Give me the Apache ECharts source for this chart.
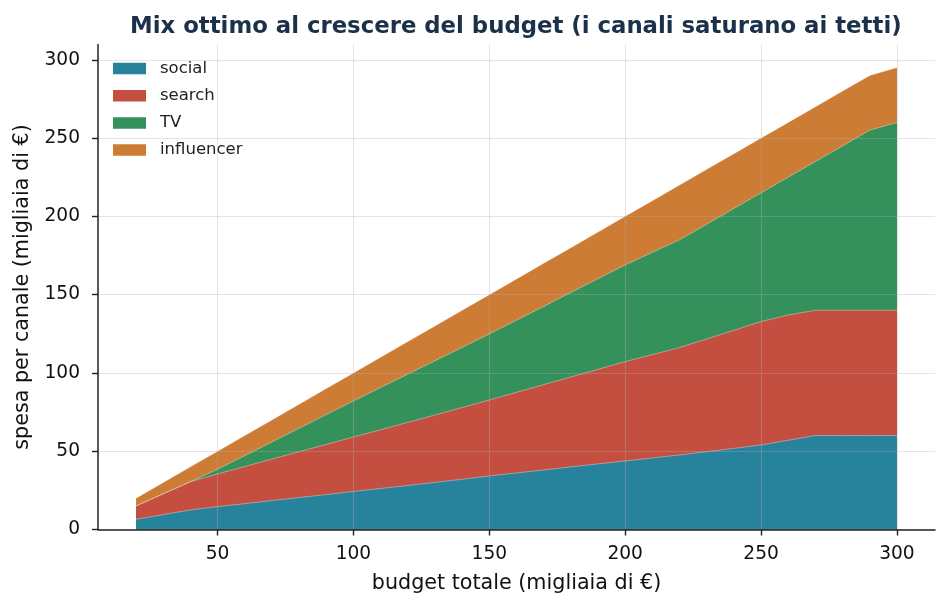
<!DOCTYPE html>
<html>
<head>
<meta charset="utf-8">
<script src="https://cdn.jsdelivr.net/npm/echarts@6/dist/echarts.min.js"></script>
<style>html,body{margin:0;padding:0;background:#fff;}#c{width:949px;height:608px;}</style>
</head>
<body>
<div id="c"></div>
<script>
const budget = [20,30,40,50,60,70,80,90,100,110,120,130,140,150,160,170,180,190,200,210,220,230,240,250,260,270,280,290,300];
const social = [6.5,9.5,12.5,14.6,16.5,18.5,20.4,22.3,24.3,26.2,28.1,30.1,32.1,34.2,36.1,38.0,40.0,41.9,43.8,45.7,47.6,49.7,51.8,54.0,57.0,60,60,60,60];
const search = [8.5,13.3,18.0,20.9,23.7,26.5,29.3,32.0,34.8,37.5,40.3,43.0,45.8,48.5,51.5,54.5,57.4,60.4,63.4,66.0,68.6,72.0,75.4,78.8,80,80,80,80,80];
const tv = [0,0,0,3.0,6.9,10.9,14.9,19.1,23.0,27.0,30.8,34.7,38.4,42.2,46.1,50.0,54.0,57.9,61.8,65.3,68.8,73.3,77.8,82.2,88.0,95,105,115,120];
const influencer = [5,7.2,9.5,11.5,12.9,14.1,15.4,16.6,17.9,19.3,20.8,22.2,23.7,25.1,26.3,27.5,28.6,29.8,31.0,33.0,35,35,35,35,35,35,35,35,35];
const seriesNames = ['social','search','TV','influencer'];
const xTicks = [50,100,150,200,250,300];
const yTicks = [0,50,100,150,200,250,300];

const colors = ['#27829b','#c44e40','#35915b','#cd7c35'];
const values = [social, search, tv, influencer];
const font = 'DejaVu Sans';

// cumulative tops (stacking done here, areas filled to zero and overlaid)
const cum = [];
values.forEach((arr,i)=>{
  cum.push(arr.map((v,j)=> v + (i>0 ? cum[i-1][j] : 0)));
});

const chart = echarts.init(document.getElementById('c'));
const series = [];
for (let i = seriesNames.length - 1; i >= 0; i--) {
  series.push({
    name: seriesNames[i],
    type: 'line',
    data: budget.map((b,j)=>[b, cum[i][j]]),
    showSymbol: false,
    symbol: 'none',
    color: colors[i],
    lineStyle: {width: 0.8, color: 'rgba(255,255,255,0.45)'},
    areaStyle: {color: colors[i], opacity: 1, origin: 'start'},
    emphasis: {disabled: true},
    animation: false,
    z: 2
  });
}

chart.setOption({
  animation: false,
  backgroundColor: '#ffffff',
  textStyle: {fontFamily: font},
  title: {
    text: 'Mix ottimo al crescere del budget (i canali saturano ai tetti)',
    left: 130,
    top: 16,
    padding: 0,
    textStyle: {fontFamily: font, fontSize: 22.8, fontWeight: 'bold', color: '#1b314a'}
  },
  legend: {
    orient: 'vertical',
    left: 113,
    top: 60,
    padding: 0,
    icon: 'rect',
    itemWidth: 33,
    itemHeight: 11.5,
    itemGap: 10.2,
    textStyle: {fontFamily: font, fontSize: 16.5, color: '#222', lineHeight: 16, padding: [0,0,0,9]},
    data: seriesNames.map((n,i)=>({name: n, itemStyle: {color: colors[i], borderWidth: 0}}))
  },
  grid: {left: 98, right: 14, top: 44.5, bottom: 78.5, containLabel: false},
  xAxis: {
    type: 'value',
    min: 6, max: 314,
    z: 5,
    name: 'budget totale (migliaia di €)',
    nameLocation: 'middle',
    nameGap: 44,
    nameTextStyle: {fontFamily: font, fontSize: 20.7, color: '#111'},
    axisLine: {show: true, onZero: false, lineStyle: {color: '#222', width: 1.5}},
    axisTick: {show: true, length: 6, lineStyle: {color: '#222', width: 1.4}, customValues: xTicks},
    axisLabel: {customValues: xTicks, fontFamily: font, fontSize: 18.6, color: '#111', margin: 15},
    splitLine: {show: true, lineStyle: {color: 'rgba(176,176,176,0.33)', width: 1.2}}
  },
  yAxis: {
    type: 'value',
    min: 0, max: 309.75,
    interval: 50,
    z: 5,
    name: 'spesa per canale (migliaia di €)',
    nameLocation: 'middle',
    nameGap: 60,
    nameTextStyle: {fontFamily: font, fontSize: 20.7, color: '#111'},
    axisLine: {show: true, lineStyle: {color: '#222', width: 1.5}},
    axisTick: {show: true, length: 6, lineStyle: {color: '#222', width: 1.4}, customValues: yTicks},
    axisLabel: {customValues: yTicks, fontFamily: font, fontSize: 18.6, color: '#111', margin: 18},
    splitLine: {show: true, lineStyle: {color: 'rgba(176,176,176,0.33)', width: 1.2}}
  },
  series: series
});
</script>
</body>
</html>
